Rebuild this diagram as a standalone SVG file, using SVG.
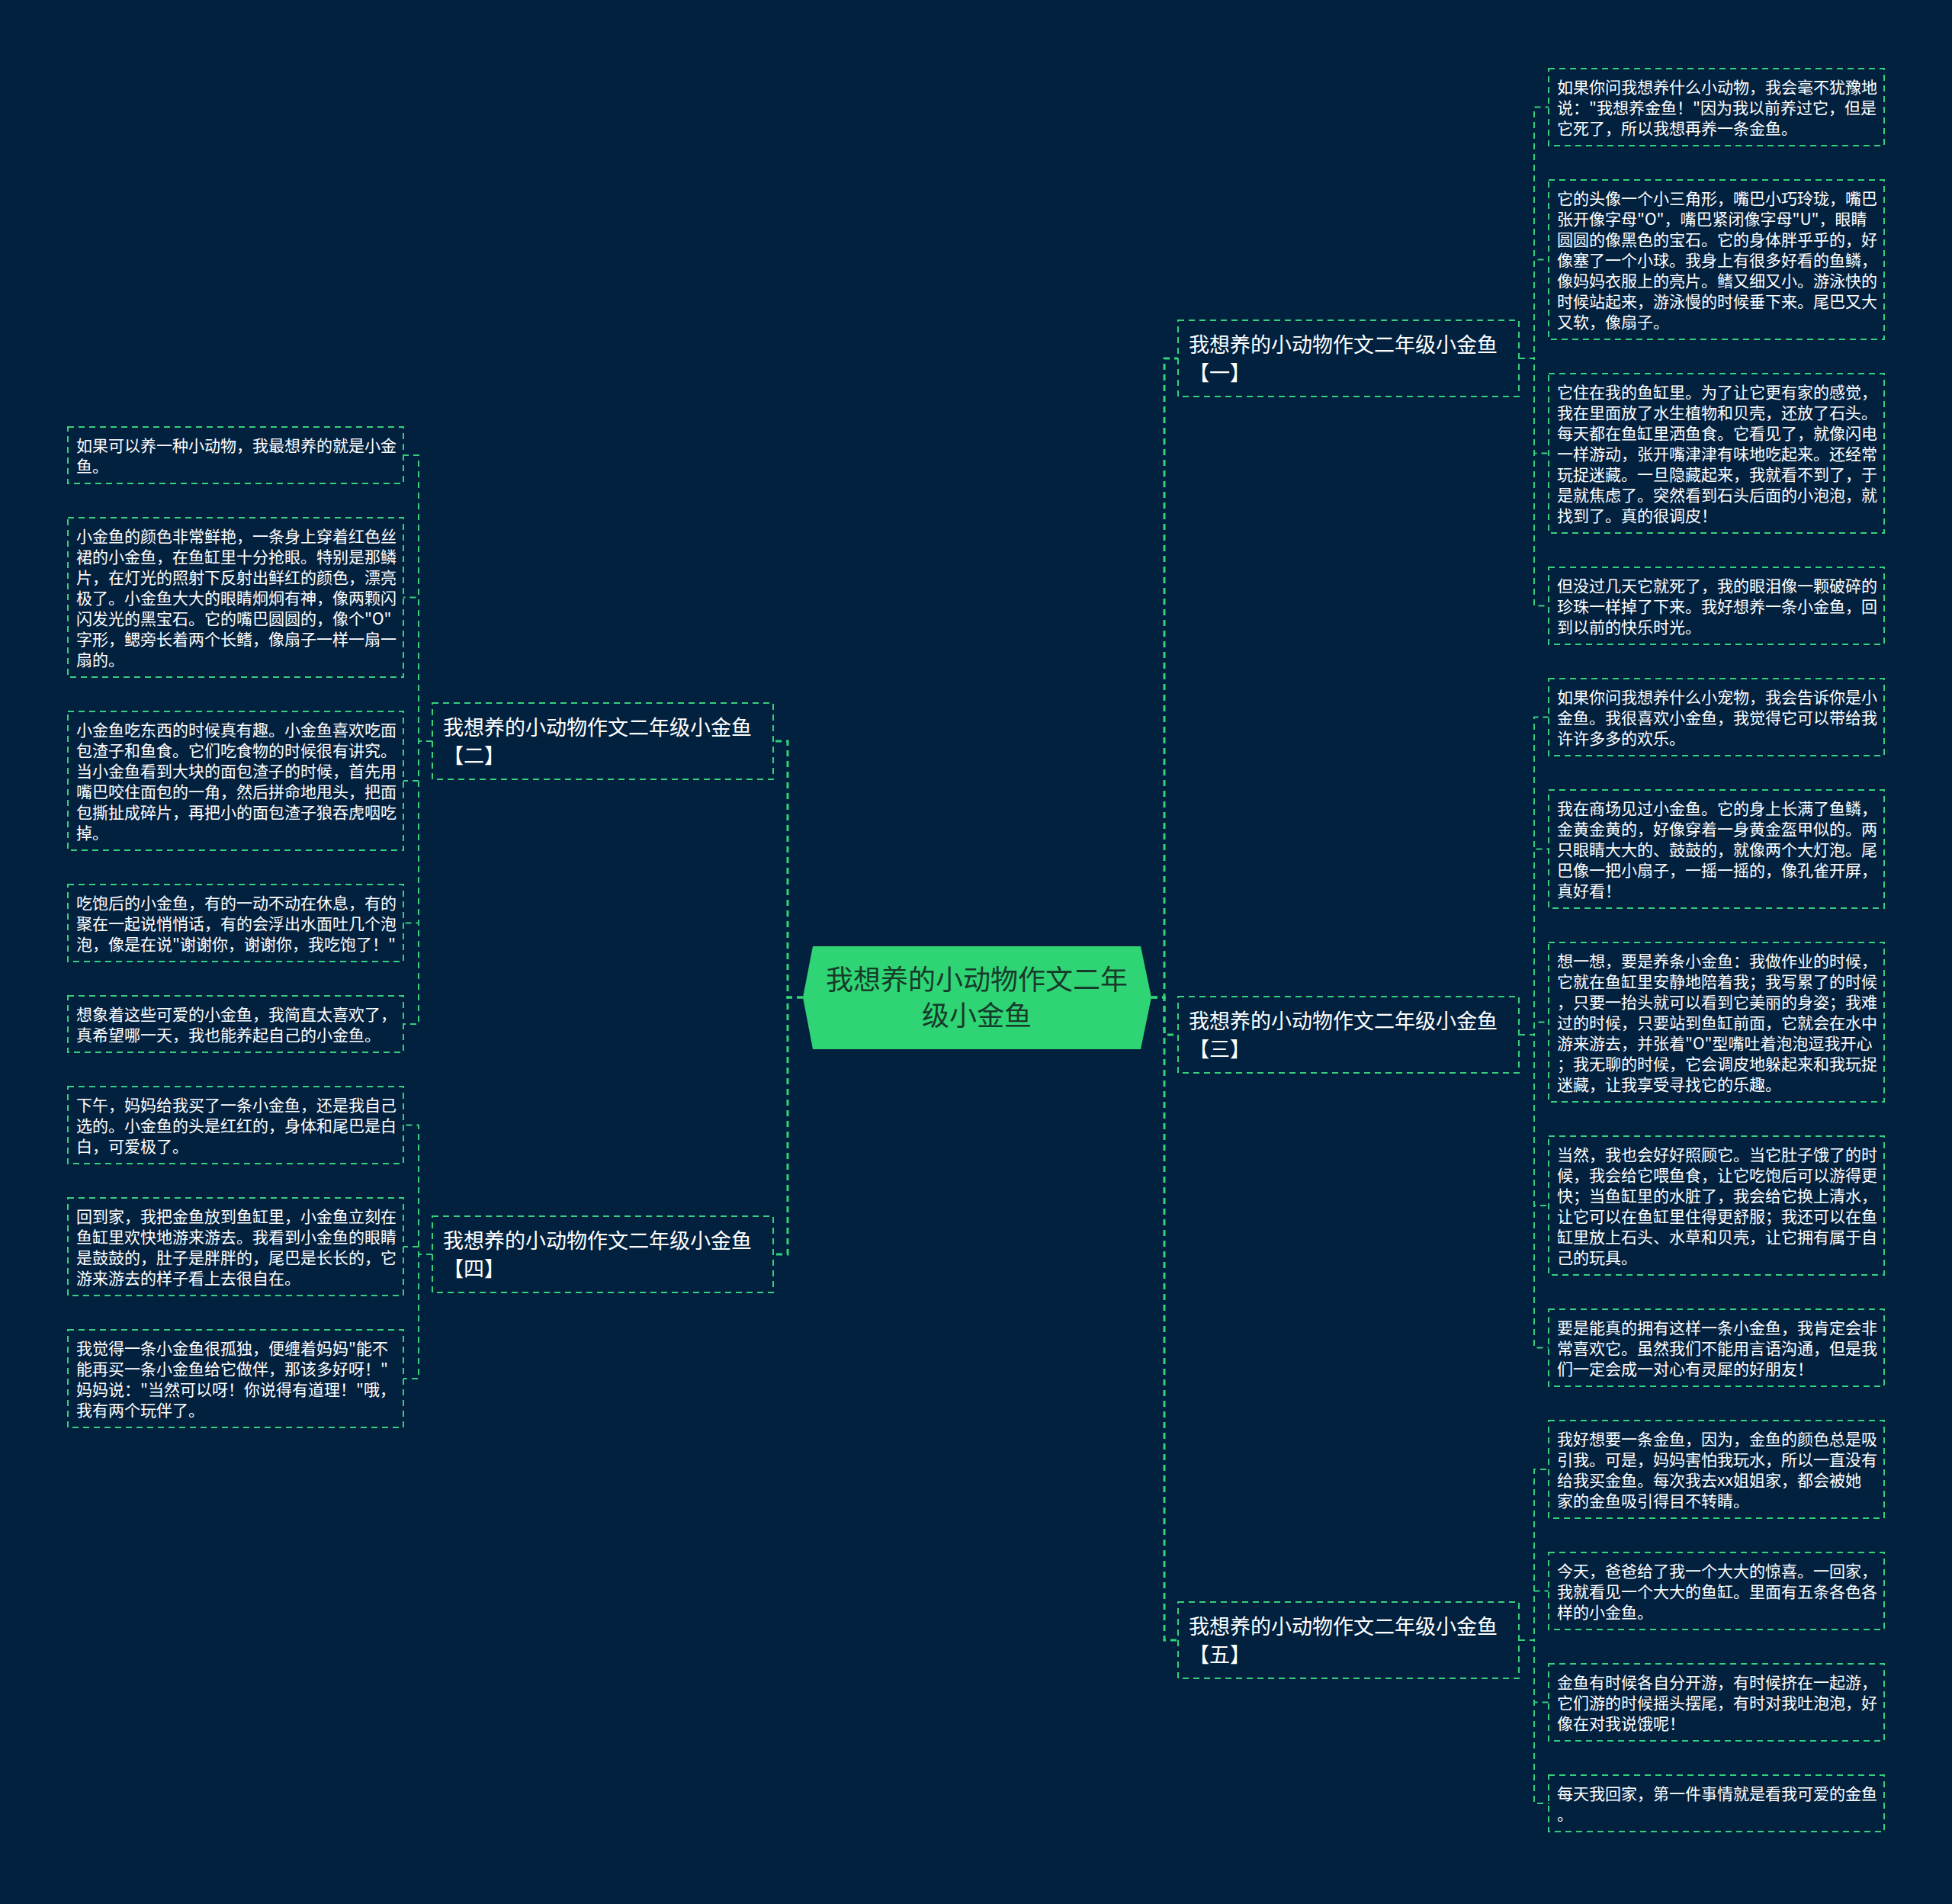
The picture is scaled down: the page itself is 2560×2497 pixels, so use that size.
<svg xmlns="http://www.w3.org/2000/svg" width="2560" height="2497" viewBox="0 0 2560 2497">
<style>
.bg{fill:#02213f}
.box{fill:none;stroke:#36cf7d;stroke-width:2;stroke-dasharray:8 6}
.c1{fill:none;stroke:#2fd574;stroke-width:3;stroke-dasharray:8 6}
.c2{fill:none;stroke:#36cf7d;stroke-width:2;stroke-dasharray:8 6}
.leaf{font-family:"Noto Sans CJK SC","Noto Sans",sans-serif;font-size:21px;fill:#ffffff}
.br{font-family:"Noto Sans CJK SC","Noto Sans",sans-serif;font-size:27px;fill:#ffffff}
.ct{font-family:"Noto Sans CJK SC","Noto Sans",sans-serif;font-size:36px;fill:#173a2a;text-anchor:middle}
</style>
<rect class="bg" x="0" y="0" width="2560" height="2497"/>
<g id="connectors">
<path class="c1" d="M1510,1308 H1527 V470 H1545"/>
<path class="c1" d="M1510,1308 H1527 V1357 H1545"/>
<path class="c1" d="M1510,1308 H1527 V2151 H1545"/>
<path class="c1" d="M1053,1308 H1033 V972 H1014"/>
<path class="c1" d="M1053,1308 H1033 V1645 H1014"/>
<path class="c2" d="M1992,470 H2012 V140.5 H2031"/>
<path class="c2" d="M1992,470 H2012 V340.5 H2031"/>
<path class="c2" d="M1992,470 H2012 V594.5 H2031"/>
<path class="c2" d="M1992,470 H2012 V794.5 H2031"/>
<path class="c2" d="M1992,1357 H2012 V940.5 H2031"/>
<path class="c2" d="M1992,1357 H2012 V1113.5 H2031"/>
<path class="c2" d="M1992,1357 H2012 V1340.5 H2031"/>
<path class="c2" d="M1992,1357 H2012 V1581 H2031"/>
<path class="c2" d="M1992,1357 H2012 V1767.5 H2031"/>
<path class="c2" d="M1992,2151 H2012 V1927 H2031"/>
<path class="c2" d="M1992,2151 H2012 V2086.5 H2031"/>
<path class="c2" d="M1992,2151 H2012 V2232.5 H2031"/>
<path class="c2" d="M1992,2151 H2012 V2365 H2031"/>
<path class="c2" d="M567,972 H549 V597 H529"/>
<path class="c2" d="M567,972 H549 V783.5 H529"/>
<path class="c2" d="M567,972 H549 V1024 H529"/>
<path class="c2" d="M567,972 H549 V1210.5 H529"/>
<path class="c2" d="M567,972 H549 V1343 H529"/>
<path class="c2" d="M567,1645 H549 V1475.5 H529"/>
<path class="c2" d="M567,1645 H549 V1635 H529"/>
<path class="c2" d="M567,1645 H549 V1808 H529"/>
</g>
<g id="center">
<polygon points="1053,1308 1066,1241 1496,1241 1510,1308 1496,1376 1066,1376" fill="#2fd574"/>
<text class="ct"><tspan x="1281" y="1298">我想养的小动物作文二年</tspan><tspan x="1281" y="1345">级小金鱼</tspan></text>
</g>
<g id="b1"><rect class="box" x="1545" y="420" width="447" height="100"/><text class="br"><tspan x="1559" y="462">我想养的小动物作文二年级小金鱼</tspan><tspan x="1559" y="499">【一】</tspan></text></g>
<g id="b2"><rect class="box" x="567" y="922" width="447" height="100"/><text class="br"><tspan x="581" y="964">我想养的小动物作文二年级小金鱼</tspan><tspan x="581" y="1001">【二】</tspan></text></g>
<g id="b3"><rect class="box" x="1545" y="1307" width="447" height="100"/><text class="br"><tspan x="1559" y="1349">我想养的小动物作文二年级小金鱼</tspan><tspan x="1559" y="1386">【三】</tspan></text></g>
<g id="b4"><rect class="box" x="567" y="1595" width="447" height="100"/><text class="br"><tspan x="581" y="1637">我想养的小动物作文二年级小金鱼</tspan><tspan x="581" y="1674">【四】</tspan></text></g>
<g id="b5"><rect class="box" x="1545" y="2101" width="447" height="100"/><text class="br"><tspan x="1559" y="2143">我想养的小动物作文二年级小金鱼</tspan><tspan x="1559" y="2180">【五】</tspan></text></g>
<g id="r1"><rect class="box" x="2031" y="90" width="440" height="101"/><text class="leaf"><tspan x="2042" y="122">如果你问我想养什么小动物，我会毫不犹豫地</tspan><tspan x="2042" y="149">说："我想养金鱼！"因为我以前养过它，但是</tspan><tspan x="2042" y="176">它死了，所以我想再养一条金鱼。</tspan></text></g>
<g id="r2"><rect class="box" x="2031" y="236" width="440" height="209"/><text class="leaf"><tspan x="2042" y="268">它的头像一个小三角形，嘴巴小巧玲珑，嘴巴</tspan><tspan x="2042" y="295">张开像字母"O"，嘴巴紧闭像字母"U"，眼睛</tspan><tspan x="2042" y="322">圆圆的像黑色的宝石。它的身体胖乎乎的，好</tspan><tspan x="2042" y="349">像塞了一个小球。我身上有很多好看的鱼鳞，</tspan><tspan x="2042" y="376">像妈妈衣服上的亮片。鳍又细又小。游泳快的</tspan><tspan x="2042" y="403">时候站起来，游泳慢的时候垂下来。尾巴又大</tspan><tspan x="2042" y="430">又软，像扇子。</tspan></text></g>
<g id="r3"><rect class="box" x="2031" y="490" width="440" height="209"/><text class="leaf"><tspan x="2042" y="522">它住在我的鱼缸里。为了让它更有家的感觉，</tspan><tspan x="2042" y="549">我在里面放了水生植物和贝壳，还放了石头。</tspan><tspan x="2042" y="576">每天都在鱼缸里洒鱼食。它看见了，就像闪电</tspan><tspan x="2042" y="603">一样游动，张开嘴津津有味地吃起来。还经常</tspan><tspan x="2042" y="630">玩捉迷藏。一旦隐藏起来，我就看不到了，于</tspan><tspan x="2042" y="657">是就焦虑了。突然看到石头后面的小泡泡，就</tspan><tspan x="2042" y="684">找到了。真的很调皮！</tspan></text></g>
<g id="r4"><rect class="box" x="2031" y="744" width="440" height="101"/><text class="leaf"><tspan x="2042" y="776">但没过几天它就死了，我的眼泪像一颗破碎的</tspan><tspan x="2042" y="803">珍珠一样掉了下来。我好想养一条小金鱼，回</tspan><tspan x="2042" y="830">到以前的快乐时光。</tspan></text></g>
<g id="r5"><rect class="box" x="2031" y="890" width="440" height="101"/><text class="leaf"><tspan x="2042" y="922">如果你问我想养什么小宠物，我会告诉你是小</tspan><tspan x="2042" y="949">金鱼。我很喜欢小金鱼，我觉得它可以带给我</tspan><tspan x="2042" y="976">许许多多的欢乐。</tspan></text></g>
<g id="r6"><rect class="box" x="2031" y="1036" width="440" height="155"/><text class="leaf"><tspan x="2042" y="1068">我在商场见过小金鱼。它的身上长满了鱼鳞，</tspan><tspan x="2042" y="1095">金黄金黄的，好像穿着一身黄金盔甲似的。两</tspan><tspan x="2042" y="1122">只眼睛大大的、鼓鼓的，就像两个大灯泡。尾</tspan><tspan x="2042" y="1149">巴像一把小扇子，一摇一摇的，像孔雀开屏，</tspan><tspan x="2042" y="1176">真好看！</tspan></text></g>
<g id="r7"><rect class="box" x="2031" y="1236" width="440" height="209"/><text class="leaf"><tspan x="2042" y="1268">想一想，要是养条小金鱼：我做作业的时候，</tspan><tspan x="2042" y="1295">它就在鱼缸里安静地陪着我；我写累了的时候</tspan><tspan x="2042" y="1322">，只要一抬头就可以看到它美丽的身姿；我难</tspan><tspan x="2042" y="1349">过的时候，只要站到鱼缸前面，它就会在水中</tspan><tspan x="2042" y="1376">游来游去，并张着"O"型嘴吐着泡泡逗我开心</tspan><tspan x="2042" y="1403">；我无聊的时候，它会调皮地躲起来和我玩捉</tspan><tspan x="2042" y="1430">迷藏，让我享受寻找它的乐趣。</tspan></text></g>
<g id="r8"><rect class="box" x="2031" y="1490" width="440" height="182"/><text class="leaf"><tspan x="2042" y="1522">当然，我也会好好照顾它。当它肚子饿了的时</tspan><tspan x="2042" y="1549">候，我会给它喂鱼食，让它吃饱后可以游得更</tspan><tspan x="2042" y="1576">快；当鱼缸里的水脏了，我会给它换上清水，</tspan><tspan x="2042" y="1603">让它可以在鱼缸里住得更舒服；我还可以在鱼</tspan><tspan x="2042" y="1630">缸里放上石头、水草和贝壳，让它拥有属于自</tspan><tspan x="2042" y="1657">己的玩具。</tspan></text></g>
<g id="r9"><rect class="box" x="2031" y="1717" width="440" height="101"/><text class="leaf"><tspan x="2042" y="1749">要是能真的拥有这样一条小金鱼，我肯定会非</tspan><tspan x="2042" y="1776">常喜欢它。虽然我们不能用言语沟通，但是我</tspan><tspan x="2042" y="1803">们一定会成一对心有灵犀的好朋友！</tspan></text></g>
<g id="r10"><rect class="box" x="2031" y="1863" width="440" height="128"/><text class="leaf"><tspan x="2042" y="1895">我好想要一条金鱼，因为，金鱼的颜色总是吸</tspan><tspan x="2042" y="1922">引我。可是，妈妈害怕我玩水，所以一直没有</tspan><tspan x="2042" y="1949">给我买金鱼。每次我去xx姐姐家，都会被她</tspan><tspan x="2042" y="1976">家的金鱼吸引得目不转睛。</tspan></text></g>
<g id="r11"><rect class="box" x="2031" y="2036" width="440" height="101"/><text class="leaf"><tspan x="2042" y="2068">今天，爸爸给了我一个大大的惊喜。一回家，</tspan><tspan x="2042" y="2095">我就看见一个大大的鱼缸。里面有五条各色各</tspan><tspan x="2042" y="2122">样的小金鱼。</tspan></text></g>
<g id="r12"><rect class="box" x="2031" y="2182" width="440" height="101"/><text class="leaf"><tspan x="2042" y="2214">金鱼有时候各自分开游，有时候挤在一起游，</tspan><tspan x="2042" y="2241">它们游的时候摇头摆尾，有时对我吐泡泡，好</tspan><tspan x="2042" y="2268">像在对我说饿呢！</tspan></text></g>
<g id="r13"><rect class="box" x="2031" y="2328" width="440" height="74"/><text class="leaf"><tspan x="2042" y="2360">每天我回家，第一件事情就是看我可爱的金鱼</tspan><tspan x="2042" y="2387">。</tspan></text></g>
<g id="l1"><rect class="box" x="89" y="560" width="440" height="74"/><text class="leaf"><tspan x="100" y="592">如果可以养一种小动物，我最想养的就是小金</tspan><tspan x="100" y="619">鱼。</tspan></text></g>
<g id="l2"><rect class="box" x="89" y="679" width="440" height="209"/><text class="leaf"><tspan x="100" y="711">小金鱼的颜色非常鲜艳，一条身上穿着红色丝</tspan><tspan x="100" y="738">裙的小金鱼，在鱼缸里十分抢眼。特别是那鳞</tspan><tspan x="100" y="765">片，在灯光的照射下反射出鲜红的颜色，漂亮</tspan><tspan x="100" y="792">极了。小金鱼大大的眼睛炯炯有神，像两颗闪</tspan><tspan x="100" y="819">闪发光的黑宝石。它的嘴巴圆圆的，像个"O"</tspan><tspan x="100" y="846">字形，鳃旁长着两个长鳍，像扇子一样一扇一</tspan><tspan x="100" y="873">扇的。</tspan></text></g>
<g id="l3"><rect class="box" x="89" y="933" width="440" height="182"/><text class="leaf"><tspan x="100" y="965">小金鱼吃东西的时候真有趣。小金鱼喜欢吃面</tspan><tspan x="100" y="992">包渣子和鱼食。它们吃食物的时候很有讲究。</tspan><tspan x="100" y="1019">当小金鱼看到大块的面包渣子的时候，首先用</tspan><tspan x="100" y="1046">嘴巴咬住面包的一角，然后拼命地甩头，把面</tspan><tspan x="100" y="1073">包撕扯成碎片，再把小的面包渣子狼吞虎咽吃</tspan><tspan x="100" y="1100">掉。</tspan></text></g>
<g id="l4"><rect class="box" x="89" y="1160" width="440" height="101"/><text class="leaf"><tspan x="100" y="1192">吃饱后的小金鱼，有的一动不动在休息，有的</tspan><tspan x="100" y="1219">聚在一起说悄悄话，有的会浮出水面吐几个泡</tspan><tspan x="100" y="1246">泡，像是在说"谢谢你，谢谢你，我吃饱了！"</tspan></text></g>
<g id="l5"><rect class="box" x="89" y="1306" width="440" height="74"/><text class="leaf"><tspan x="100" y="1338">想象着这些可爱的小金鱼，我简直太喜欢了，</tspan><tspan x="100" y="1365">真希望哪一天，我也能养起自己的小金鱼。</tspan></text></g>
<g id="l6"><rect class="box" x="89" y="1425" width="440" height="101"/><text class="leaf"><tspan x="100" y="1457">下午，妈妈给我买了一条小金鱼，还是我自己</tspan><tspan x="100" y="1484">选的。小金鱼的头是红红的，身体和尾巴是白</tspan><tspan x="100" y="1511">白，可爱极了。</tspan></text></g>
<g id="l7"><rect class="box" x="89" y="1571" width="440" height="128"/><text class="leaf"><tspan x="100" y="1603">回到家，我把金鱼放到鱼缸里，小金鱼立刻在</tspan><tspan x="100" y="1630">鱼缸里欢快地游来游去。我看到小金鱼的眼睛</tspan><tspan x="100" y="1657">是鼓鼓的，肚子是胖胖的，尾巴是长长的，它</tspan><tspan x="100" y="1684">游来游去的样子看上去很自在。</tspan></text></g>
<g id="l8"><rect class="box" x="89" y="1744" width="440" height="128"/><text class="leaf"><tspan x="100" y="1776">我觉得一条小金鱼很孤独，便缠着妈妈"能不</tspan><tspan x="100" y="1803">能再买一条小金鱼给它做伴，那该多好呀！"</tspan><tspan x="100" y="1830">妈妈说："当然可以呀！你说得有道理！"哦，</tspan><tspan x="100" y="1857">我有两个玩伴了。</tspan></text></g>
</svg>
